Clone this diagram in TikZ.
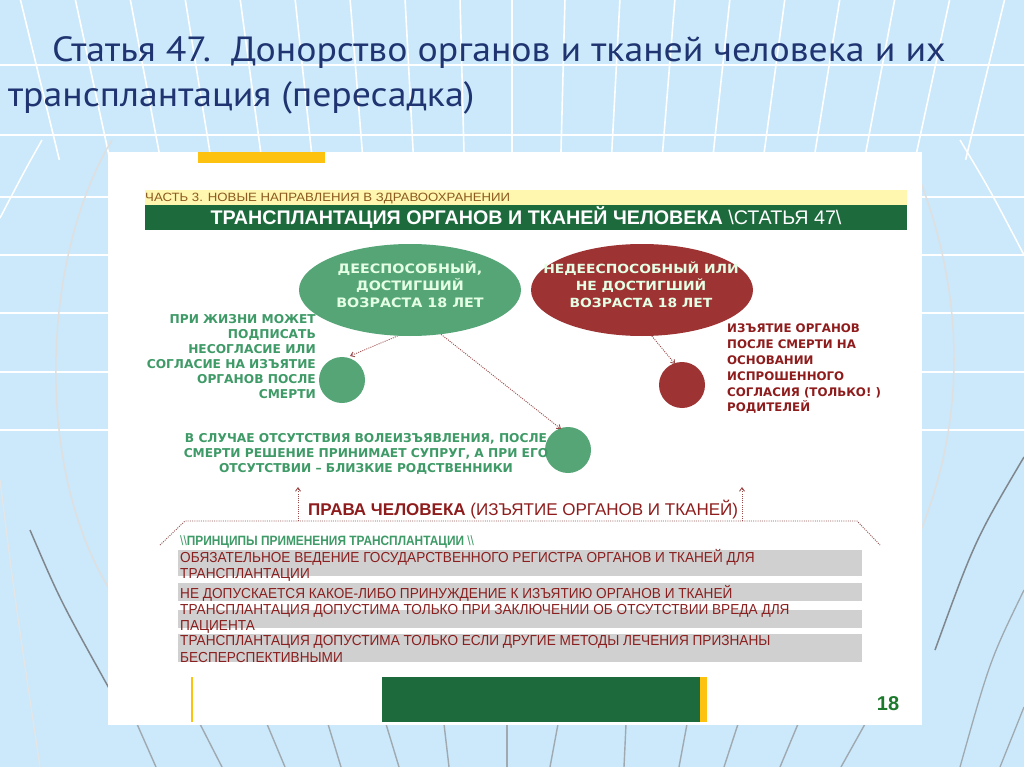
\documentclass[tikz,border=0pt]{standalone}
\usepackage{fontspec}
\setmainfont{Liberation Sans}
\newfontfamily\titlef{PT Sans}[FakeStretch=1.08]
\newfontfamily\dvf{DejaVu Sans}
\newfontfamily\dvwf{DejaVu Sans}[FakeStretch=1.1]
\newfontfamily\narf{Liberation Sans}[FakeStretch=0.88]
\newfontfamily\barf{Liberation Sans}[FakeStretch=0.94]
\newfontfamily\lsw{Liberation Sans}[FakeStretch=1.1]
\usetikzlibrary{shapes.geometric,arrows.meta}
\definecolor{bgblue}{HTML}{CBE9FB}
\definecolor{titleblue}{HTML}{1F3470}
\definecolor{hgreen}{HTML}{1D6B3D}
\definecolor{tabyellow}{HTML}{FCC20F}
\definecolor{stripyellow}{HTML}{FFF6B0}
\definecolor{stripbrown}{HTML}{8C5A1E}
\definecolor{elgreen}{HTML}{55A577}
\definecolor{elred}{HTML}{9E3333}
\definecolor{txgreen}{HTML}{3E9A66}
\definecolor{txred}{HTML}{8E1C1C}
\definecolor{bargray}{HTML}{D0D0D0}
\definecolor{bartext}{HTML}{8A1F1F}
\definecolor{arrowred}{HTML}{9B4A4A}
\definecolor{meridgray}{HTML}{A0A8B0}
\definecolor{numgreen}{HTML}{1D7A2D}
\begin{document}
\begin{tikzpicture}[x=1pt,y=-1pt,
  bigell/.style={ellipse, minimum width=222pt, minimum height=92pt, inner sep=0pt},
  dot/.style={circle, minimum size=46pt, inner sep=0pt},
  eltext/.style={align=center, text=white!90!green, font={\dvwf\bfseries\fontsize{13}{17}\selectfont}, inner sep=0pt},
  gtext/.style={text=txgreen, font={\dvf\bfseries\fontsize{12.2}{15}\selectfont}, inner sep=0pt},
  rtext/.style={text=txred, font={\dvf\bfseries\fontsize{11.8}{15.8}\selectfont}, inner sep=0pt},
  grayrow/.style={fill=bargray},
  bartx/.style={text=bartext, anchor=north west, align=left, inner sep=0pt, font={\barf\fontsize{14.5}{16.5}\selectfont}},
  dotarrow/.style={arrowred, line width=0.9pt, dash pattern=on 1pt off 1.2pt, -{Straight Barb[length=3.5pt,width=5pt]}},
  dotline/.style={arrowred!80!gray, line width=0.9pt, dash pattern=on 1pt off 1.2pt},
  bgline/.style={white, line width=1.6pt},
]
\useasboundingbox (0,0) rectangle (1024,767);
% background
\fill[bgblue] (0,0) rectangle (1024,767);
\foreach \y in {65,135,197,255,313,372,430} \draw[bgline] (0,\y) -- (1024,\y);
\foreach \x in {20,75,130,185,240,295,350,405,460,512,565,620,675,730,785,840,895,950,1005} {
  \pgfmathsetmacro\xb{512+(\x-512)*0.92}
  \draw[bgline] (\x,-2) -- (\xb,160);
}
\draw[white!75!gray, line width=1.5pt] (112,140) .. controls (40,260) and (35,470) .. (110,590);
\draw[white, line width=1.5pt] (42,140) .. controls (25,170) .. (0,218);
\draw[white!80!gray, line width=1.3pt] (0,480) .. controls (15,600) .. (40,767);
\draw[meridgray!80!black, line width=1.5pt] (30,530) .. controls (60,600) .. (110,690);
\draw[white, line width=1.5pt] (960,140) .. controls (990,190) .. (1024,255);
\draw[white!75!gray, line width=1.5pt] (921,183) .. controls (965,300) and (965,420) .. (921,530);
\draw[meridgray!80!black, line width=1.5pt] (1024,457) .. controls (975,540) .. (935,650);
\draw[meridgray, line width=1.3pt] (1024,590) .. controls (990,660) .. (960,767);
\draw[meridgray, line width=1.3pt] (1024,707) -- (1000,767);
\foreach \a/\b in {137/156,200/222,267/285,328/341,386/399,444/449,507/507,558/550,626/624,687/679,738/724,798/780,865/841}
  \draw[meridgray, line width=1.4pt] (\a,724) -- (\b,767);
% title
\node[anchor=base west, inner sep=0pt, text=titleblue, font={\titlef\fontsize{35}{40}\selectfont}] (title1) at (52,62) {Статья 47.\ \ Донорство органов и тканей человека и их};
\node[anchor=base west, inner sep=0pt, text=titleblue, font={\titlef\fontsize{35}{40}\selectfont}] (title2) at (8,107) {трансплантация (пересадка)};
% panel
\fill[white] (108,152) rectangle (922,725);
\fill[tabyellow] (198,152) rectangle (325,163);
\fill[stripyellow] (145,190) rectangle (907,205);
\node[anchor=west, inner sep=0pt, text=stripbrown, font={\lsw\fontsize{12}{13}\selectfont}] (part) at (145,198.5) {ЧАСТЬ 3. НОВЫЕ НАПРАВЛЕНИЯ В ЗДРАВООХРАНЕНИИ};
\fill[hgreen] (145,205) rectangle (907,230);
\node[inner sep=0pt, text=white, font={\fontsize{19.7}{22}\selectfont}] (head) at (526,218) {\bfseries ТРАНСПЛАНТАЦИЯ ОРГАНОВ И ТКАНЕЙ ЧЕЛОВЕКА \mdseries\textbackslash СТАТЬЯ 47\textbackslash};
% ellipses
\node[bigell, fill=elgreen] (eg) at (410,290) {};
\node[eltext] (egt) at (410,285) {ДЕЕСПОСОБНЫЙ,\\ДОСТИГШИЙ\\ВОЗРАСТА 18 ЛЕТ};
\node[bigell, fill=elred] (er) at (642,290) {};
\node[eltext, font={\dvwf\bfseries\fontsize{12.6}{17}\selectfont}] (ert) at (641,285) {НЕДЕЕСПОСОБНЫЙ ИЛИ\\НЕ ДОСТИГШИЙ\\ВОЗРАСТА 18 ЛЕТ};
% small circles
\node[dot, fill=elgreen] (cg1) at (342,380) {};
\node[dot, fill=elgreen] (cg2) at (568,450) {};
\node[dot, fill=elred] (cr) at (682,385) {};
% texts
\node[gtext, align=right, anchor=north east] (lt) at (316,314) {ПРИ ЖИЗНИ МОЖЕТ\\ПОДПИСАТЬ\\НЕСОГЛАСИЕ ИЛИ\\СОГЛАСИЕ НА ИЗЪЯТИЕ\\ОРГАНОВ ПОСЛЕ\\СМЕРТИ};
\node[gtext, align=center, anchor=north] (mt) at (366,433) {В СЛУЧАЕ ОТСУТСТВИЯ ВОЛЕИЗЪЯВЛЕНИЯ, ПОСЛЕ\\СМЕРТИ РЕШЕНИЕ ПРИНИМАЕТ СУПРУГ, А ПРИ ЕГО\\ОТСУТСТВИИ – БЛИЗКИЕ РОДСТВЕННИКИ};
\node[rtext, align=left, anchor=north west] (rt) at (727,324) {ИЗЪЯТИЕ ОРГАНОВ\\ПОСЛЕ СМЕРТИ НА\\ОСНОВАНИИ\\ИСПРОШЕННОГО\\СОГЛАСИЯ (ТОЛЬКО! )\\РОДИТЕЛЕЙ};
% dotted arrows
\draw[dotarrow] (eg.255) -- (350,356);
\draw[dotarrow] (eg.305) -- (561,429);
\draw[dotarrow] (er.282) -- (675,364);
% rights
\node[anchor=base west, inner sep=0pt, text=txred, font={\fontsize{17}{19}\selectfont}] (rights) at (308,515) {\bfseries ПРАВА ЧЕЛОВЕКА \mdseries(ИЗЪЯТИЕ ОРГАНОВ И ТКАНЕЙ)};
\coordinate (bl) at (160,545);
\coordinate (b1) at (185,521);
\coordinate (b2) at (857,521);
\coordinate (br) at (880,545);
\coordinate (al0) at (298,521);
\coordinate (al1) at (298,487);
\coordinate (ar0) at (742,521);
\coordinate (ar1) at (742,487);
\draw[dotline] (bl) -- (b1) -- (b2) -- (br);
\draw[dotarrow] (al0) -- (al1);
\draw[dotarrow] (ar0) -- (ar1);
% principles
\node[anchor=base west, inner sep=0pt, text=txgreen, font={\narf\fontsize{13.5}{15}\selectfont}] (princ) at (180,545) {\textbackslash\textbackslash\bfseries ПРИНЦИПЫ ПРИМЕНЕНИЯ ТРАНСПЛАНТАЦИИ \mdseries\textbackslash\textbackslash};
\fill[grayrow] (178,550) rectangle (862,576);
\fill[grayrow] (178,583) rectangle (862,601);
\fill[grayrow] (178,610) rectangle (862,628);
\fill[grayrow] (178,634) rectangle (862,662);
\node[bartx] (p1) at (180,549) {ОБЯЗАТЕЛЬНОЕ ВЕДЕНИЕ ГОСУДАРСТВЕННОГО РЕГИСТРА ОРГАНОВ И ТКАНЕЙ ДЛЯ\\ТРАНСПЛАНТАЦИИ};
\node[bartx] (p2) at (180,585) {НЕ ДОПУСКАЕТСЯ КАКОЕ-ЛИБО ПРИНУЖДЕНИЕ К ИЗЪЯТИЮ ОРГАНОВ И ТКАНЕЙ};
\node[bartx] (p3) at (180,604) {ТРАНСПЛАНТАЦИЯ ДОПУСТИМА ТОЛЬКО ПРИ ЗАКЛЮЧЕНИИ ОБ ОТСУТСТВИИ ВРЕДА ДЛЯ\\ПАЦИЕНТА};
\node[bartx] (p4) at (180,635.5) {ТРАНСПЛАНТАЦИЯ ДОПУСТИМА ТОЛЬКО ЕСЛИ ДРУГИЕ МЕТОДЫ ЛЕЧЕНИЯ ПРИЗНАНЫ\\БЕСПЕРСПЕКТИВНЫМИ};
% bottom
\fill[tabyellow] (191,677) rectangle (193,722);
\fill[hgreen] (382,677) rectangle (700,722);
\fill[tabyellow] (700,677) rectangle (707,722);
\node[inner sep=0pt, text=numgreen, font={\bfseries\fontsize{20}{22}\selectfont}] (num) at (888,704) {18};
\end{tikzpicture}
\end{document}
